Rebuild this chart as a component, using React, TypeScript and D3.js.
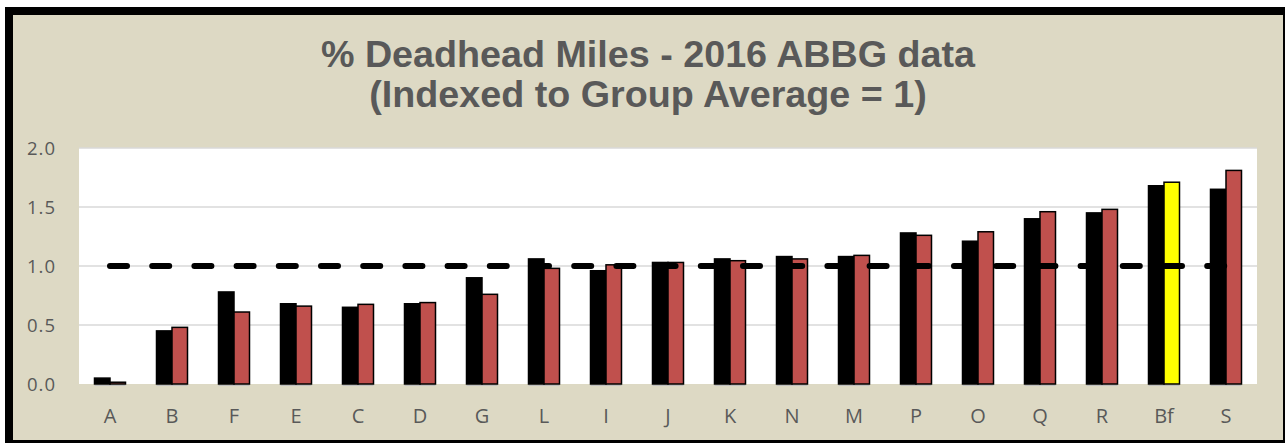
import React, { useRef, useEffect } from 'react';
import * as d3 from 'd3';

const categories = ['A', 'B', 'F', 'E', 'C', 'D', 'G', 'L', 'I', 'J', 'K', 'N', 'M', 'P', 'O', 'Q', 'R', 'Bf', 'S'];
const blackSeries = [0.05, 0.45, 0.78, 0.68, 0.65, 0.68, 0.90, 1.06, 0.96, 1.03, 1.06, 1.08, 1.08, 1.28, 1.21, 1.40, 1.45, 1.68, 1.65];
const redSeries = [0.015, 0.48, 0.61, 0.66, 0.675, 0.69, 0.76, 0.98, 1.01, 1.03, 1.045, 1.06, 1.09, 1.26, 1.29, 1.46, 1.48, 1.71, 1.81];
const highlightCategory = 'Bf';
const yTicks = [0, 0.5, 1.0, 1.5, 2.0];
const groupAverage = 1;
const titleLines = ['% Deadhead Miles - 2016 ABBG data', '(Indexed to Group Average = 1)'];

const WIDTH = 1285;
const HEIGHT = 443;

const App: React.FC = () => {
  const svgRef = useRef<SVGSVGElement>(null);

  useEffect(() => {
    if (!svgRef.current) return;
    const svg = d3.select(svgRef.current);
    svg.selectAll('*').remove();

    const plot = { left: 79, right: 1257, top: 148, bottom: 384 };
    const textColor = '#595959';

    // chart background + frame
    svg.append('rect')
      .attr('x', 9).attr('y', 11)
      .attr('width', 1278).attr('height', 433)
      .attr('fill', '#DDD9C4')
      .attr('stroke', '#000')
      .attr('stroke-width', 8);

    // title
    svg.append('g')
      .selectAll('text')
      .data(titleLines)
      .enter().append('text')
      .attr('x', 648)
      .attr('y', (d, i) => 67 + i * 40)
      .attr('text-anchor', 'middle')
      .attr('font-family', '"Liberation Sans", Arial, sans-serif')
      .attr('font-weight', 'bold')
      .attr('font-size', '37.7px')
      .attr('fill', textColor)
      .text(d => d);

    // plot area
    svg.append('rect')
      .attr('x', plot.left).attr('y', plot.top)
      .attr('width', plot.right - plot.left)
      .attr('height', plot.bottom - plot.top)
      .attr('fill', '#fff');

    const y = d3.scaleLinear().domain([0, 2]).range([plot.bottom, plot.top]);
    const x0 = d3.scaleBand()
      .domain(categories)
      .range([plot.left, plot.right])
      .paddingInner(0.5)
      .paddingOuter(0.25);
    const x1 = d3.scaleBand()
      .domain(['black', 'red'])
      .range([0, x0.bandwidth()]);

    // gridlines
    svg.append('g')
      .selectAll('line')
      .data(yTicks.filter(t => t > 0))
      .enter().append('line')
      .attr('x1', plot.left).attr('x2', plot.right)
      .attr('y1', d => y(d)).attr('y2', d => y(d))
      .attr('stroke', '#d9d9d9')
      .attr('stroke-width', 1.5);

    // y tick labels
    svg.append('g')
      .selectAll('text')
      .data(yTicks)
      .enter().append('text')
      .attr('x', 56)
      .attr('y', d => y(d))
      .attr('dy', '0.36em')
      .attr('text-anchor', 'end')
      .attr('font-family', '"Open Sans", sans-serif')
      .attr('font-size', '18.5px')
      .attr('letter-spacing', '1px')
      .attr('fill', textColor)
      .text(d => d.toFixed(1));

    // bars
    const groups = svg.append('g')
      .selectAll('g')
      .data(categories)
      .enter().append('g')
      .attr('transform', d => `translate(${x0(d)},0)`);

    groups.append('line')
      .attr('x1', 0).attr('x2', x0.bandwidth())
      .attr('y1', plot.bottom + 1.5).attr('y2', plot.bottom + 1.5)
      .attr('stroke', '#bfbfbf')
      .attr('stroke-width', 1);

    groups.append('rect')
      .attr('x', x1('black')!)
      .attr('width', x1.bandwidth())
      .attr('y', (d, i) => y(blackSeries[i]))
      .attr('height', (d, i) => y(0) - y(blackSeries[i]))
      .attr('fill', '#000')
      .attr('stroke', '#000')
      .attr('stroke-width', 1.5);

    groups.append('rect')
      .attr('x', x1('red')!)
      .attr('width', x1.bandwidth())
      .attr('y', (d, i) => y(redSeries[i]))
      .attr('height', (d, i) => y(0) - y(redSeries[i]))
      .attr('fill', d => (d === highlightCategory ? '#FFFF00' : '#C0504D'))
      .attr('stroke', '#000')
      .attr('stroke-width', 1.5);

    // group average dashed line
    const first = categories[0];
    const last = categories[categories.length - 1];
    svg.append('line')
      .attr('x1', x0(first)! + x0.bandwidth() / 2)
      .attr('x2', x0(last)! + x0.bandwidth() / 2)
      .attr('y1', y(groupAverage)).attr('y2', y(groupAverage))
      .attr('stroke', '#000')
      .attr('stroke-width', 6)
      .attr('stroke-linecap', 'round')
      .attr('stroke-dasharray', '17 25.2');

    // category labels
    svg.append('g')
      .selectAll('text')
      .data(categories)
      .enter().append('text')
      .attr('x', d => x0(d)! + x0.bandwidth() / 2)
      .attr('y', 416)
      .attr('dy', '0.36em')
      .attr('text-anchor', 'middle')
      .attr('font-family', '"Open Sans", sans-serif')
      .attr('font-size', '20px')
      .attr('fill', textColor)
      .text(d => d);
  }, []);

  return (
    <svg
      ref={svgRef}
      width={WIDTH}
      height={HEIGHT}
      style={{ position: 'absolute', left: 0, top: 0, background: '#fff' }}
    />
  );
};

export default App;
